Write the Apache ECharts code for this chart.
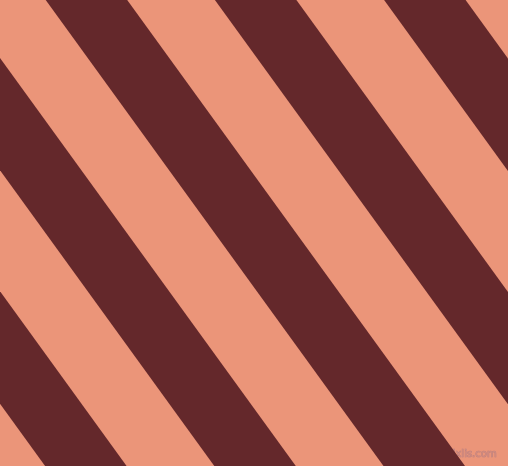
<!DOCTYPE html>
<html>
<head>
<meta charset="utf-8">
<script src="https://cdn.jsdelivr.net/npm/echarts@6/dist/echarts.min.js"></script>
<style>html,body{margin:0;padding:0;background:#EB9579;}#c{width:508px;height:466px;}</style>
</head>
<body>
<div id="c"></div>
<script>
// Stripe edges (x value where each dark stripe meets the top row y=0 and the bottom row y=466)
var stripeTopLeft     = [-292.7, -123.5, 45.7, 214.9, 384.1];
var stripeTopRight    = [-211.2,  -42.0, 127.2, 296.4, 465.6];
var stripeBottomLeft  = [  45.1,  214.3, 383.5, 552.7, 721.9];
var stripeBottomRight = [ 126.6,  295.8, 465.0, 634.2, 803.4];
var yTop = 0, yBottom = 466;

var data = stripeTopLeft.map(function (v, i) {
  return [v, stripeTopRight[i], stripeBottomLeft[i], stripeBottomRight[i]];
});

var chart = echarts.init(document.getElementById('c'), null, {renderer: 'canvas'});
chart.setOption({
  backgroundColor: '#EB9579',
  animation: false,
  grid: {left: 0, right: 0, top: 0, bottom: 0},
  xAxis: {type: 'value', min: 0, max: 508, show: false},
  yAxis: {type: 'value', min: 0, max: 466, inverse: true, show: false},
  series: [{
    type: 'custom',
    clip: true,
    data: data,
    renderItem: function (params, api) {
      var p1 = api.coord([api.value(0), yTop]);
      var p2 = api.coord([api.value(1), yTop]);
      var p3 = api.coord([api.value(3), yBottom]);
      var p4 = api.coord([api.value(2), yBottom]);
      return {
        type: 'polygon',
        shape: {points: [p1, p2, p3, p4]},
        style: {fill: '#64282B'}
      };
    }
  }],
  graphic: [{
    type: 'text',
    right: 11,
    bottom: 6,
    style: {
      text: 'pixlis.com',
      font: '10px "DejaVu Sans"',
      fill: '#D48A7C',
      stroke: '#B27E82',
      lineWidth: 0.7
    }
  }]
});
</script>
</body>
</html>
